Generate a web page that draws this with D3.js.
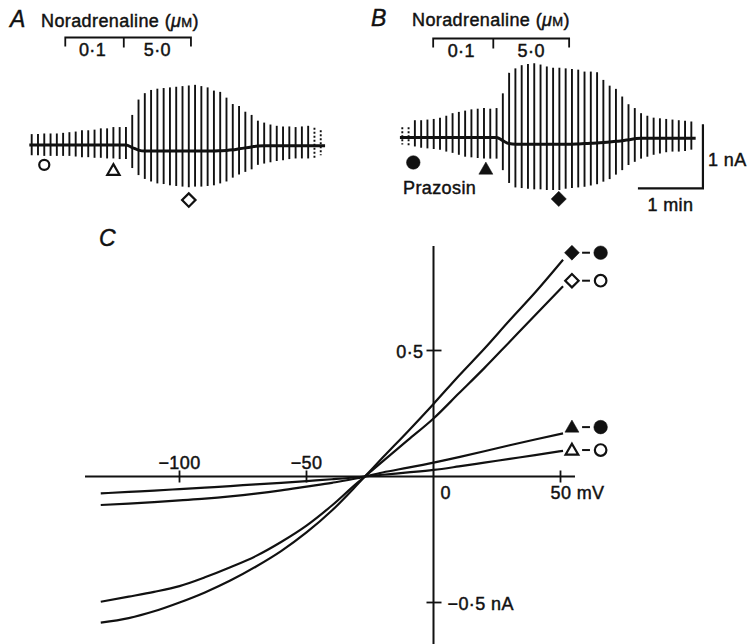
<!DOCTYPE html>
<html><head><meta charset="utf-8">
<script src="https://cdn.jsdelivr.net/npm/d3@7"></script>
<style>
html,body{margin:0;padding:0;background:#fff;}
svg{display:block;}
text{font-family:"Liberation Sans", Arial, Helvetica, sans-serif; fill:#111; stroke:#111; stroke-width:0.45px; letter-spacing:0.4px;}
</style></head><body>
<svg id="fig" width="748" height="644"></svg>
<script>
// ================= DATA =================
// Panels A/B: current responses to repeated voltage steps (nA, relative to initial holding current)
const sweepPeriod = 5.8; // seconds between steps
const aTop = [0.17,0.17,0.18,0.18,0.18,0.19,0.20,0.21,0.23,0.23,0.24,0.26,0.26,0.28,0.28,0.28,
  0.47,0.71,0.81,0.86,0.88,0.89,0.90,0.91,0.92,0.93,0.94,0.92,0.90,0.85,0.83,0.74,0.64,0.61,
  0.52,0.47,0.38,0.35,0.32,0.30,0.29,0.29,0.28,0.29,0.30,0.27,0.23];
const aBottom = [-0.16,-0.16,-0.17,-0.17,-0.17,-0.17,-0.17,-0.18,-0.19,-0.19,-0.20,-0.20,-0.21,-0.21,-0.22,-0.22,
  -0.36,-0.47,-0.53,-0.57,-0.60,-0.61,-0.63,-0.64,-0.65,-0.66,-0.65,-0.65,-0.64,-0.63,-0.60,-0.57,-0.51,-0.46,
  -0.42,-0.38,-0.31,-0.29,-0.27,-0.25,-0.24,-0.22,-0.21,-0.21,-0.21,-0.20,-0.16];
const aHolding = [0,0,0,0,0,0,0,0,0,0,0,0,0,0,0,0,
  -0.04,-0.08,-0.094,-0.094,-0.094,-0.094,-0.094,-0.094,-0.094,-0.094,-0.094,-0.094,-0.094,-0.094,-0.09,-0.085,-0.075,-0.06,
  -0.045,-0.03,-0.015,-0.01,-0.01,-0.01,-0.01,-0.01,-0.01,-0.01,-0.01,-0.01,-0.01];
const bTop = [0.16,0.16,0.27,0.27,0.28,0.29,0.31,0.34,0.38,0.40,0.42,0.44,0.45,0.46,0.45,0.46,
  0.69,1.01,1.08,1.13,1.15,1.16,1.14,1.11,1.09,1.09,1.08,1.07,1.06,1.03,1.03,1.02,0.90,0.81,
  0.76,0.64,0.52,0.46,0.38,0.34,0.31,0.30,0.29,0.28,0.27,0.26,0.25];
const bBottom = [-0.11,-0.13,-0.14,-0.16,-0.17,-0.18,-0.19,-0.22,-0.24,-0.27,-0.30,-0.31,-0.32,-0.33,-0.33,-0.33,
  -0.51,-0.71,-0.78,-0.79,-0.80,-0.81,-0.81,-0.82,-0.82,-0.82,-0.80,-0.79,-0.78,-0.77,-0.75,-0.73,-0.69,-0.65,
  -0.58,-0.51,-0.43,-0.38,-0.33,-0.30,-0.27,-0.25,-0.23,-0.22,-0.22,-0.21,-0.19];
const bHolding = [0,0,0,0,0,0,0,0,0,0,0,0,0,0,0,0,
  -0.05,-0.095,-0.104,-0.104,-0.104,-0.104,-0.104,-0.104,-0.104,-0.104,-0.104,-0.104,-0.1,-0.095,-0.09,-0.085,-0.078,-0.07,
  -0.06,-0.05,-0.035,-0.02,-0.01,-0.01,-0.01,-0.01,-0.01,-0.01,-0.01,-0.01,-0.01];
const aFaint = [45,46];
const bFaint = [0,1];
const naLabels = ["0·1", "5·0"];
const aNaTimes = [31, 85, 147];     // s: start 0.1, switch to 5.0, end
const bNaTimes = [28.5, 84, 154];
const aSymbols = [{sweep:2, current:-0.31, type:"circle", filled:false},
                  {sweep:13, current:-0.41, type:"triangle", filled:false},
                  {sweep:25, current:-0.86, type:"diamond", filled:false}];
const bSymbols = [{sweep:1.75, current:-0.39, type:"circle", filled:true},
                  {sweep:13.3, current:-0.51, type:"triangle", filled:true},
                  {sweep:24.9, current:-0.96, type:"diamond", filled:true}];

// Panel C: difference I–V relations
const ivVoltage = [-131,-120,-110,-100,-90,-80,-70,-60,-50,-40,-30,-27,-20,-10,0,10,20,30,40,51];
const ivFilledDiamond = [-0.58,-0.562,-0.535,-0.50,-0.46,-0.413,-0.358,-0.296,-0.222,-0.135,-0.032,0,0.075,0.18,0.288,0.40,0.507,0.62,0.73,0.86];
const ivOpenDiamond   = [-0.497,-0.477,-0.458,-0.435,-0.40,-0.36,-0.316,-0.26,-0.195,-0.115,-0.025,0,0.06,0.145,0.23,0.33,0.43,0.535,0.64,0.755];
const ivFilledTri     = [-0.113,-0.108,-0.102,-0.095,-0.088,-0.079,-0.068,-0.055,-0.04,-0.025,-0.007,0,0.016,0.035,0.055,0.077,0.10,0.124,0.147,0.171];
const ivOpenTri       = [-0.067,-0.061,-0.056,-0.05,-0.044,-0.038,-0.031,-0.025,-0.018,-0.011,-0.003,0,0.007,0.016,0.026,0.04,0.055,0.07,0.085,0.102];
const ivCurves = [
  {values: ivFilledDiamond, sym:"diamond", filled:true,  circleFilled:true,  labelAt:0.888},
  {values: ivOpenDiamond,   sym:"diamond", filled:false, circleFilled:false, labelAt:0.777},
  {values: ivFilledTri,     sym:"triangle",filled:true,  circleFilled:true,  labelAt:0.196},
  {values: ivOpenTri,       sym:"triangle",filled:false, circleFilled:false, labelAt:0.105}
];
const xTicksC = [-100, -50, 50];
const xTickLabelsC = ["−100", "−50", "50 mV"];
const yTicksC = [0.5, -0.5];
const yTickLabelsC = ["0·5", "−0·5 nA"];

// ================= DRAW =================
const svg = d3.select("#fig");
const ink = "#111";
const pxPerSec = 65/60;
const pxPerNA = 64;

function symbolPath(type, size) {
  if (type === "circle") return d3.symbol(d3.symbolCircle, size)();
  if (type === "triangle") return d3.symbol(d3.symbolTriangle, size)();
  return d3.symbol(d3.symbolSquare, size)();
}
function drawSymbol(g, type, filled, x, y, size) {
  g.append("path").attr("d", symbolPath(type, size))
    .attr("transform", `translate(${x},${y})` + (type === "diamond" ? " rotate(45)" : ""))
    .attr("fill", filled ? ink : "#fff").attr("stroke", ink).attr("stroke-width", filled ? 0.5 : 2.2);
}

function drawTracePanel(cfg) {
  const g = svg.append("g");
  const x = d3.scaleLinear().domain([0, 60]).range([cfg.x0, cfg.x0 + 60*pxPerSec]);
  const y = d3.scaleLinear().domain([0, 1]).range([cfg.y0, cfg.y0 - pxPerNA]);
  const times = cfg.top.map((d,i) => i*sweepPeriod);
  // title
  g.append("text").attr("x", cfg.letterX).attr("y", cfg.titleY)
    .style("font-size","23px").style("font-style","italic").text(cfg.letter);
  const t = g.append("text").attr("x", cfg.titleX).attr("y", cfg.titleY).style("font-size","18px");
  t.append("tspan").text("Noradrenaline (");
  t.append("tspan").style("font-style","italic").text("μ");
  t.append("tspan").style("font-size","13px").text("M");
  t.append("tspan").text(")");
  // bracket
  const nb = cfg.na;
  g.append("path").attr("fill","none").attr("stroke",ink).attr("stroke-width",1.8)
    .attr("d", `M${x(nb[0])},${cfg.bracketY+9}V${cfg.bracketY}H${x(nb[2])}V${cfg.bracketY+9}M${x(nb[1])},${cfg.bracketY}V${cfg.bracketY+10}`);
  naLabels.forEach((lab,i) => {
    g.append("text").attr("x", (x(nb[i]) + x(nb[i+1]))/2 + (i===0?-2:0)).attr("y", cfg.bracketY+18)
      .attr("text-anchor","middle").style("font-size","18px").text(lab);
  });
  // sweeps
  g.selectAll("line.sw").data(cfg.top).join("line")
    .attr("x1", (d,i) => x(times[i])).attr("x2", (d,i) => x(times[i]))
    .attr("y1", d => y(d)).attr("y2", (d,i) => y(cfg.bottom[i]))
    .attr("stroke", ink).attr("stroke-width", 1.9)
    .attr("stroke-dasharray", (d,i) => cfg.faint.includes(i) ? "2,2" : null);
  // holding current
  const hold = cfg.holding.map((h,i) => [times[i], h]);
  hold.unshift([-2.2, 0]);
  hold.push([times[times.length-1] + 4, cfg.holding[cfg.holding.length-1]]);
  g.append("path").datum(hold).attr("fill","none").attr("stroke",ink).attr("stroke-width",3)
    .attr("d", d3.line().x(d => x(d[0])).y(d => y(d[1])).curve(d3.curveMonotoneX));
  cfg.symbols.forEach(s => drawSymbol(g, s.type, s.filled, x(s.sweep*sweepPeriod), y(s.current),
      s.type === "circle" ? (s.filled ? 145 : 80) : (s.type === "triangle" ? (s.filled ? 85 : 65) : (s.filled ? 115 : 90))));
  return {g, x, y};
}

drawTracePanel({letter:"A", letterX:10, titleX:41, titleY:27, x0:31.7, y0:145,
  bracketY:37.5, na:aNaTimes, top:aTop, bottom:aBottom, holding:aHolding, faint:aFaint, symbols:aSymbols});
const pB = drawTracePanel({letter:"B", letterX:371, titleX:412, titleY:26, x0:402.3, y0:137.5,
  bracketY:38.5, na:bNaTimes, top:bTop, bottom:bBottom, holding:bHolding, faint:bFaint, symbols:bSymbols});
pB.g.append("text").attr("x", 403).attr("y", 194).style("font-size","18px").text("Prazosin");
// scale bars (1 nA, 1 min)
const sbT = 277.5, sbI = -0.794;
pB.g.append("path").attr("fill","none").attr("stroke",ink).attr("stroke-width",2.2)
  .attr("d", `M${pB.x(sbT-60)},${pB.y(sbI)}H${pB.x(sbT)}V${pB.y(sbI+1)}`);
pB.g.append("text").attr("x", pB.x(sbT)+5).attr("y", 166).style("font-size","18px").text("1 nA");
pB.g.append("text").attr("x", pB.x(sbT-30)).attr("y", 211).attr("text-anchor","middle").style("font-size","18px").text("1 min");

// ---- Panel C ----
const gC = svg.append("g");
const xC = d3.scaleLinear().domain([-100, 50]).range([179.5, 560.5]);
const yC = d3.scaleLinear().domain([-0.5, 0.5]).range([602.5, 350.5]);
gC.append("text").attr("x", 99).attr("y", 246).style("font-size","23px").style("font-style","italic").text("C");
// axes
gC.append("line").attr("x1", xC(-137.2)).attr("x2", xC(55.7)).attr("y1", yC(0)).attr("y2", yC(0))
  .attr("stroke", ink).attr("stroke-width", 2);
gC.append("line").attr("x1", xC(0)).attr("x2", xC(0)).attr("y1", yC(0.915)).attr("y2", 644)
  .attr("stroke", ink).attr("stroke-width", 2);
xTicksC.forEach((v,i) => {
  gC.append("line").attr("x1", xC(v)).attr("x2", xC(v)).attr("y1", yC(0)-6).attr("y2", yC(0)+6)
    .attr("stroke", ink).attr("stroke-width", 1.8);
  if (v < 0) gC.append("text").attr("x", xC(v)).attr("y", yC(0)-8).attr("text-anchor","middle")
    .style("font-size","18px").text(xTickLabelsC[i]);
  else gC.append("text").attr("x", xC(v)-10).attr("y", yC(0)+22).style("font-size","18px").text(xTickLabelsC[i]);
});
gC.append("text").attr("x", xC(0)+7).attr("y", yC(0)+22).style("font-size","18px").text("0");
yTicksC.forEach((v,i) => {
  gC.append("line").attr("x1", xC(0)-7).attr("x2", xC(0)+8).attr("y1", yC(v)).attr("y2", yC(v))
    .attr("stroke", ink).attr("stroke-width", 1.8);
  if (v > 0) gC.append("text").attr("x", xC(0)-10).attr("y", yC(v)+7).attr("text-anchor","end")
    .style("font-size","18px").text(yTickLabelsC[i]);
  else gC.append("text").attr("x", xC(0)+14).attr("y", yC(v)+7).style("font-size","18px").text(yTickLabelsC[i]);
});
// curves
const ivLine = d3.line().x((d,i) => xC(ivVoltage[i])).y(d => yC(d)).curve(d3.curveMonotoneX);
ivCurves.forEach(c => {
  gC.append("path").datum(c.values).attr("fill","none").attr("stroke",ink).attr("stroke-width",2.2)
    .attr("stroke-linejoin","round").attr("d", ivLine);
  const ly = yC(c.labelAt);
  drawSymbol(gC, c.sym, c.filled, xC(54.5), ly + (c.sym === "triangle" ? 1 : 0),
    c.sym === "diamond" ? (c.filled ? 110 : 90) : (c.filled ? 85 : 70));
  gC.append("line").attr("x1", xC(58.5)).attr("x2", xC(61.6)).attr("y1", ly).attr("y2", ly)
    .attr("stroke", ink).attr("stroke-width", 2);
  drawSymbol(gC, "circle", c.circleFilled, xC(65.8), ly, c.circleFilled ? 145 : 105);
});
</script>
</body></html>
